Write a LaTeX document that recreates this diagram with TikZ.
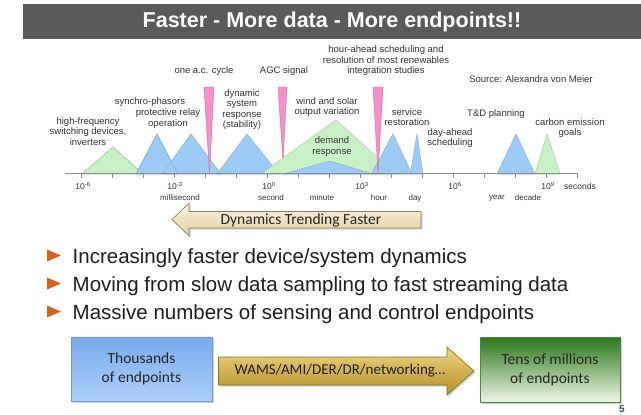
\documentclass[tikz,border=0pt]{standalone}
\usepackage{fontspec}
\setmainfont{Liberation Sans}
\newfontfamily\calibri{Carlito}
\usetikzlibrary{shadows}

\definecolor{barc}{HTML}{5A5A5A}
\definecolor{bl}{HTML}{9CCBF6}
\definecolor{bld}{HTML}{86B2DE}
\definecolor{gr}{HTML}{C9F1C6}
\definecolor{grd}{HTML}{A8CFA4}
\definecolor{pk}{HTML}{F690C9}
\definecolor{pkd}{HTML}{D86CA4}
\definecolor{lbl}{HTML}{333333}
\definecolor{axc}{HTML}{8E8E8E}
\definecolor{orng}{HTML}{D8621C}
\definecolor{beigeT}{HTML}{FAF3E0}
\definecolor{beigeB}{HTML}{E4D0A0}
\definecolor{beigeD}{HTML}{8A7A5C}
\definecolor{goldT}{HTML}{EDD680}
\definecolor{goldB}{HTML}{B58F28}
\definecolor{goldD}{HTML}{8B6E1E}
\definecolor{boxblT}{HTML}{78ABEC}
\definecolor{boxblB}{HTML}{ADCFF8}
\definecolor{boxblD}{HTML}{6C9CD2}
\definecolor{boxgrT}{HTML}{2A771A}
\definecolor{boxgrB}{HTML}{EEF6E6}
\definecolor{boxgrD}{HTML}{4E8A3A}
\definecolor{pgc}{HTML}{2E5266}

\tikzset{
  bluetri/.style={fill=bl, draw=bld, line width=0.5pt, line join=round},
  greentri/.style={fill=gr, draw=grd, line width=0.5pt, line join=round},
  pinkspike/.style={fill=pk, draw=pkd, line width=0.4pt, line join=round},
  lab/.style={font=\fontsize{9.5}{10.5}\selectfont, text=lbl, align=center, inner sep=0pt},
  ticklab/.style={font=\fontsize{8.5}{9}\selectfont, text=lbl, inner sep=0pt},
  unitlab/.style={font=\fontsize{8}{9}\selectfont, text=lbl, inner sep=0pt},
  bullettext/.style={font=\fontsize{20.5}{22}\selectfont, text=black!88, anchor=base west, inner sep=0pt},
  bulletmark/.style={fill=orng},
  endbox/.style={minimum width=141pt, minimum height=64pt, inner sep=0pt, align=center,
     font=\calibri\fontsize{15.5}{19}\selectfont, text=black!85, line width=0.6pt,
     drop shadow={opacity=0.35, shadow xshift=1.5pt, shadow yshift=-1.5pt}},
  mysh/.style={drop shadow={opacity=0.35, shadow xshift=1.5pt, shadow yshift=-1.5pt}},
}

\begin{document}
\begin{tikzpicture}[x=1pt,y=-1pt]
\useasboundingbox (0,0) rectangle (641,415);
\fill[white] (0,0) rectangle (641,415);

% title bar
\fill[barc] (23,4) rectangle (641,39);
\node[font=\bfseries\fontsize{21.5}{24}\selectfont, text=white, inner sep=0pt] (title) at (332,21.5) {Faster - More data - More endpoints!!};

% shapes on the time axis
\fill[greentri] (82,174) -- (113,147) -- (143,174) -- cycle;
\fill[bluetri] (136,174) -- (157,134) -- (178,174) -- cycle;
\filldraw[bluetri] (162,174) -- (191,134) -- (221,174) -- cycle;
\filldraw[bluetri] (217,174) -- (247,134) -- (279,174) -- cycle;
\filldraw[pinkspike] (278,87) -- (287,87) -- (283,162) -- cycle;
\filldraw[greentri] (261,174) -- (336,120) -- (396,174) -- cycle;
\filldraw[bluetri] (283,174) -- (330,161) -- (373,174) -- cycle;
\filldraw[bluetri] (371,174) -- (393,134) -- (412,174) -- cycle;
\filldraw[bluetri] (410.5,174) -- (417,134) -- (423,174) -- cycle;
\filldraw[bluetri] (497,174) -- (516,134) -- (535,174) -- cycle;
\filldraw[greentri] (535,174) -- (547,134) -- (560,174) -- cycle;
\filldraw[pinkspike] (204,87) -- (214,87) -- (209.5,174) -- cycle;
\filldraw[pinkspike] (373,87) -- (383,87) -- (378,173) -- cycle;
\draw[bluetri, fill=none] (136,174) -- (157,134) -- (178,174);
\draw[greentri, fill=none] (82,174) -- (113,147) -- (143,174);

% axis
\draw[axc, line width=1.6pt] (65,173.5) -- (578,173.5);
\foreach \k in {0,...,16} {
  \draw[axc, line width=0.8pt] ({81.5+31*\k},173.5) -- ({81.5+31*\k},177.5);
}

% tick labels
\node[ticklab] (tm6) at (83,186) {10\textsuperscript{-6}};
\node[ticklab] (tm3) at (175,186) {10\textsuperscript{-3}};
\node[ticklab] (t0) at (269,186) {10\textsuperscript{0}};
\node[ticklab] (t3) at (362,186) {10\textsuperscript{3}};
\node[ticklab] (t6) at (455,186) {10\textsuperscript{6}};
\node[ticklab] (t9) at (548,186) {10\textsuperscript{9}};
\node[ticklab] (sec) at (580,186) {seconds};
\node[unitlab] (ums) at (180,198) {millisecond};
\node[unitlab] (us) at (271,198) {second};
\node[unitlab] (umin) at (322,198) {minute};
\node[unitlab] (uh) at (379,198) {hour};
\node[unitlab] (ud) at (415,198) {day};
\node[unitlab] (uy) at (497,198) {year};
\node[unitlab] (udec) at (528,198) {decade};

% labels
\node[lab] (hf) at (88,131.5) {high-frequency\\switching devices,\\inverters};
\node[lab] (sp) at (150,102) {synchro-phasors};
\node[lab] (pr) at (168,118.5) {protective relay\\operation};
\node[lab] (ac) at (204,71) {one a.c. cycle};
\node[lab] (agc) at (284,71) {AGC signal};
\node[lab] (dyn) at (242,109.5) {dynamic\\system\\response\\(stability)};
\node[lab] (ws) at (327,107) {wind and solar\\output variation};
\node[lab] (dr) at (332,146.5) {demand\\response};
\node[lab] (ha) at (386,61) {hour-ahead scheduling and\\resolution of most renewables\\integration studies};
\node[lab] (src) at (531,79) {Source: Alexandra von Meier};
\node[lab] (sr) at (407,117) {service\\restoration};
\node[lab] (da) at (450,138) {day-ahead\\scheduling};
\node[lab] (td) at (496,114) {T\&D planning};
\node[lab] (ce) at (570,128) {carbon emission\\goals};

% dynamics trending faster arrow
\path[mysh, top color=beigeT, bottom color=beigeB, draw=beigeD, line width=0.6pt]
  (172,219.5) -- (189,203) -- (189,211.5) -- (421,211.5) -- (421,228) -- (189,228) -- (189,236) -- cycle;
\node[font=\calibri\fontsize{15.5}{18}\selectfont, text=black!85, inner sep=0pt] (dtf) at (301,220) {Dynamics Trending Faster};

% bullets
\fill[bulletmark] (47,249.5) -- (61,255.5) -- (47,261.5) -- cycle;
\fill[bulletmark] (47,277.5) -- (61,283.5) -- (47,289.5) -- cycle;
\fill[bulletmark] (47,305.5) -- (61,311.5) -- (47,317.5) -- cycle;
\node[bullettext] (b1) at (72.5,263) {Increasingly faster device/system dynamics};
\node[bullettext] (b2) at (72.5,291) {Moving from slow data sampling to fast streaming data};
\node[bullettext] (b3) at (72.5,319) {Massive numbers of sensing and control endpoints};

% bottom boxes
\node[endbox, draw=boxblD, top color=boxblT, bottom color=boxblB] (thou) at (141.5,369) {Thousands\\of endpoints};
\node[endbox, draw=boxgrD, top color=boxgrT, bottom color=boxgrB, minimum width=140pt, minimum height=65pt] (tens) at (550,369.5) {Tens of millions\\of endpoints};
\path[mysh, top color=goldT, bottom color=goldB, draw=goldD, line width=0.6pt]
  (218.5,357) -- (447,357) -- (447,347) -- (474,371) -- (447,395) -- (447,385) -- (218.5,385) -- cycle;
\node[font=\calibri\fontsize{15}{18}\selectfont, text=black!88, inner sep=0pt] (wams) at (340,371) {WAMS/AMI/DER/DR/networking\ldots};

% page number
\node[font=\bfseries\fontsize{10}{11}\selectfont, text=pgc, inner sep=0pt] (pg) at (622,409) {5};
\end{tikzpicture}
\end{document}
